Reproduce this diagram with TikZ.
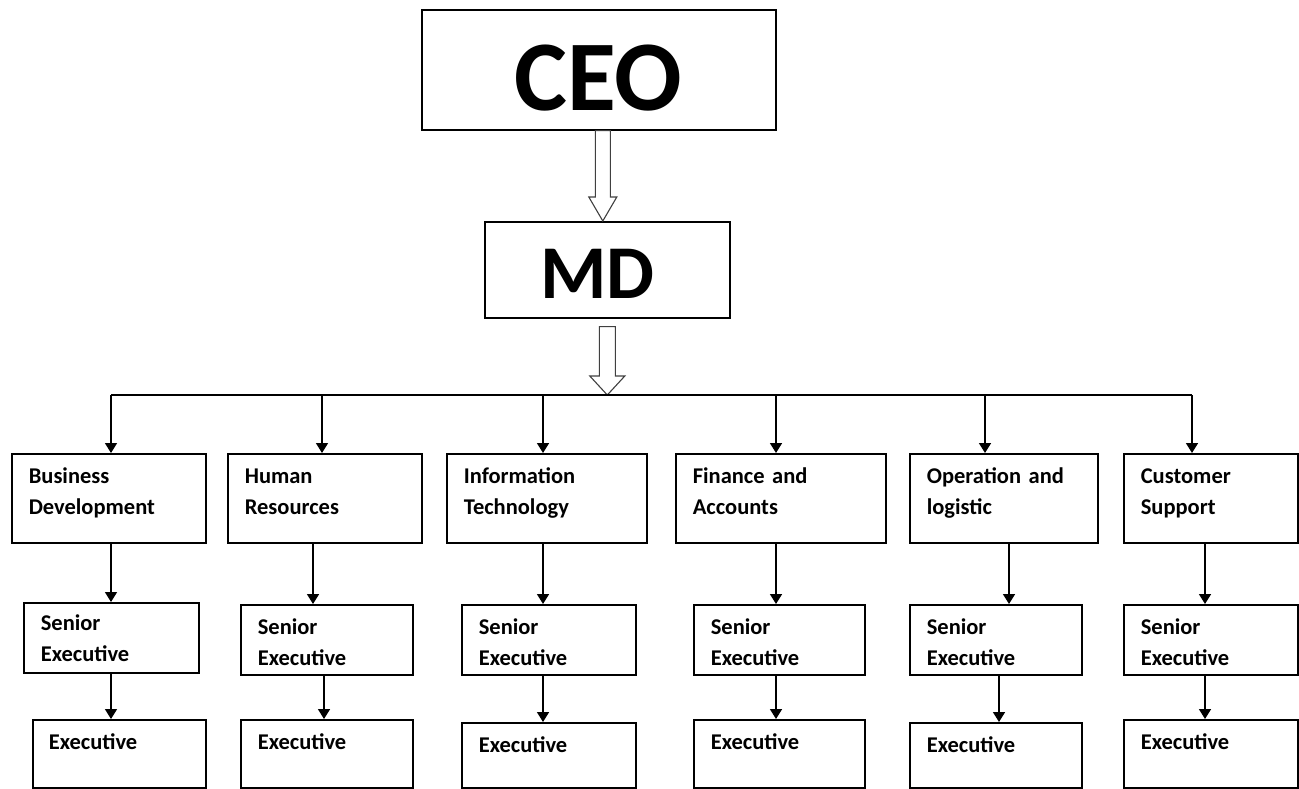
\documentclass[tikz,border=0pt]{standalone}
\usepackage{fontspec}
\setmainfont{Carlito}
\usetikzlibrary{arrows.meta,calc}

\tikzstyle{chief}=[draw,line width=1.6pt,inner xsep=0pt,inner ysep=0pt,anchor=north west,font=\bfseries]
\tikzstyle{dept}=[draw,line width=1.6pt,anchor=north west,align=left,inner xsep=17pt,inner ysep=0pt,text height=30pt,text depth=59pt,font=\fontsize{22.5}{31}\selectfont\bfseries]
\tikzstyle{senior}=[dept,text height=30pt,text depth=40pt]
\tikzstyle{exec}=[dept,text height=30pt,text depth=38pt]
\tikzstyle{conn}=[draw,line width=1.6pt,-{Triangle[width=12pt,length=10pt]}]
\tikzstyle{bus}=[draw,line width=1.6pt]
\tikzstyle{hollow}=[draw=black!75,line width=1.1pt,fill=white]

% hollow block arrow: start, tip, half shaft, half head, head length
\newcommand{\hollowarrow}[5]{%
  \draw[hollow] let \p1=(#1), \p2=(#2) in
    (\x1-#3,\y1) -- (\x1-#3,\y2+#5) -- (\x1-#4,\y2+#5) -- (\x1,\y2)
    -- (\x1+#4,\y2+#5) -- (\x1+#3,\y2+#5) -- (\x1+#3,\y1) -- cycle;}

\begin{document}
\begin{tikzpicture}[x=1pt,y=-1pt]
	\useasboundingbox (0,0) rectangle (1299,789);

	\node [chief,minimum width=354pt,minimum height=120pt,text height=101pt,text depth=19pt,font=\fontsize{100}{100}\selectfont\bfseries] (ceo) at (421,9)   {CEO};
	\node [chief,minimum width=245pt,minimum height=96pt,text height=77pt,text depth=19pt,font=\fontsize{76}{76}\selectfont\bfseries]  (md)  at (484,221) {MD\hspace*{20pt}};

	\node [dept,text width=160pt] (bd) at (11,453)   {Business\\Development};
	\node [dept,text width=160pt] (hr) at (227,453)  {Human\\Resources};
	\node [dept,text width=166pt] (it) at (446,453)  {Information\\Technology};
	\node [dept,text width=176pt] (fa) at (675,453)  {Finance and\\Accounts};
	\node [dept,text width=154pt] (ol) at (909,453)  {Operation and\\logistic};
	\node [dept,text width=140pt] (cs) at (1123,453) {Customer\\Support};

	\node [senior,text width=141pt,text height=28pt,text depth=42pt] (sbd) at (23,602) {Senior\\Executive};
	\node [senior,text width=138pt] (shr) at (240,604)  {Senior\\Executive};
	\node [senior,text width=140pt] (sit) at (461,604)  {Senior\\Executive};
	\node [senior,text width=137pt] (sfa) at (693,604)  {Senior\\Executive};
	\node [senior,text width=138pt] (sol) at (909,604)  {Senior\\Executive};
	\node [senior,text width=140pt] (scs) at (1123,604) {Senior\\Executive};

	\node [exec,text width=141pt,inner xsep=16pt] (ebd) at (32,719) {Executive};
	\node [exec,text width=138pt] (ehr) at (240,719)  {Executive};
	\node [exec,text width=140pt,text depth=35pt] (eit) at (461,722)  {Executive};
	\node [exec,text width=137pt] (efa) at (693,719)  {Executive};
	\node [exec,text width=138pt,text depth=35pt] (eol) at (909,722)  {Executive};
	\node [exec,text width=140pt] (ecs) at (1123,719) {Executive};

	\coordinate (a1) at (111,395);
	\coordinate (a2) at (322,395);
	\coordinate (a3) at (543,395);
	\coordinate (a4) at (776,395);
	\coordinate (a5) at (985,395);
	\coordinate (a6) at (1192,395);
	\coordinate (hub) at (605,395);

	\hollowarrow{[xshift=4pt]ceo.south}{[xshift=4pt]ceo.south |- md.north}{7.5pt}{14pt}{24pt}
	\hollowarrow{[yshift=-8pt]md.south}{hub}{8pt}{17.5pt}{19pt}

	\draw [bus] (a1) -- (a6);
	\draw [conn] (a1) -- (a1 |- bd.north);
	\draw [conn] (a2) -- (a2 |- hr.north);
	\draw [conn] (a3) -- (a3 |- it.north);
	\draw [conn] (a4) -- (a4 |- fa.north);
	\draw [conn] (a5) -- (a5 |- ol.north);
	\draw [conn] (a6) -- (a6 |- cs.north);

	\draw [conn] (a1 |- bd.south) -- (a1 |- sbd.north);
	\draw [conn] ([xshift=-9pt]a2 |- hr.south) -- ([xshift=-9pt]a2 |- shr.north);
	\draw [conn] (a3 |- it.south) -- (a3 |- sit.north);
	\draw [conn] (a4 |- fa.south) -- (a4 |- sfa.north);
	\draw [conn] ([xshift=24pt]a5 |- ol.south) -- ([xshift=24pt]a5 |- sol.north);
	\draw [conn] ([xshift=13pt]a6 |- cs.south) -- ([xshift=13pt]a6 |- scs.north);

	\draw [conn] (a1 |- sbd.south) -- (a1 |- ebd.north);
	\draw [conn] ([xshift=2pt]a2 |- shr.south) -- ([xshift=2pt]a2 |- ehr.north);
	\draw [conn] (a3 |- sit.south) -- (a3 |- eit.north);
	\draw [conn] (a4 |- sfa.south) -- (a4 |- efa.north);
	\draw [conn] ([xshift=14pt]a5 |- sol.south) -- ([xshift=14pt]a5 |- eol.north);
	\draw [conn] ([xshift=13pt]a6 |- scs.south) -- ([xshift=13pt]a6 |- ecs.north);
\end{tikzpicture}
\end{document}
